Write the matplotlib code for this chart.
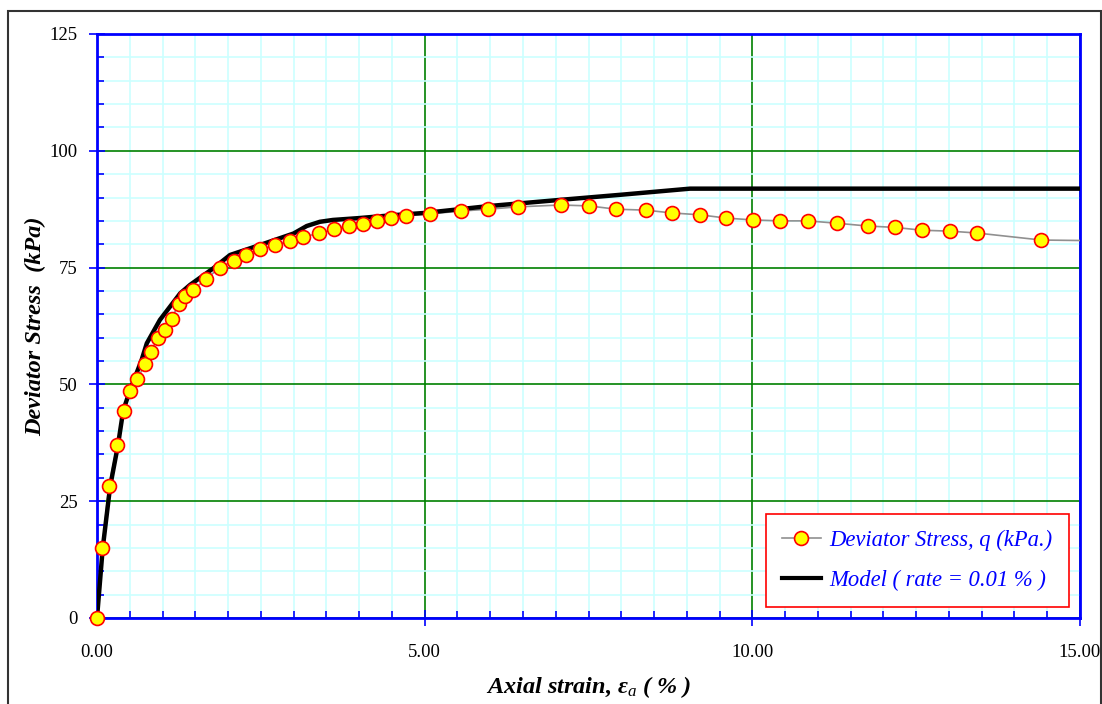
import matplotlib
matplotlib.use("Agg")
import matplotlib.pyplot as plt
from matplotlib.ticker import MultipleLocator, FixedLocator, FuncFormatter
from matplotlib.patches import Rectangle

# Measured data: deviator stress vs axial strain
strain = [0.0, 0.08, 0.18, 0.31, 0.41, 0.50, 0.615, 0.73, 0.82, 0.93, 1.04, 1.14,
          1.25, 1.35, 1.47, 1.67, 1.87, 2.09, 2.28, 2.49, 2.72, 2.95, 3.15, 3.38,
          3.61, 3.84, 4.06, 4.27, 4.48, 4.71, 5.08, 5.55, 5.97, 6.42, 7.08, 7.51,
          7.92, 8.37, 8.77, 9.20, 9.60, 10.01, 10.42, 10.85, 11.29, 11.76, 12.18,
          12.59, 13.02, 13.43, 14.41, 15.0]
stress = [0.0, 15.0, 28.2, 37.0, 44.4, 48.5, 51.1, 54.3, 57.0, 59.9, 61.7, 64.1,
          67.3, 68.9, 70.3, 72.6, 75.0, 76.5, 77.6, 78.9, 79.8, 80.8, 81.6, 82.3,
          83.2, 84.0, 84.4, 84.9, 85.6, 86.1, 86.5, 87.1, 87.5, 88.0, 88.4, 88.2,
          87.5, 87.3, 86.7, 86.3, 85.6, 85.2, 85.0, 85.0, 84.5, 83.9, 83.6,
          83.0, 82.8, 82.4, 80.9, 80.8]
n_markers = 51  # last point is line continuation only

# Model curve (rate = 0.01 %)
model_strain = [0.0, 0.087, 0.2, 0.32, 0.40, 0.5, 0.68, 0.76, 0.96, 1.27, 1.42,
                1.77, 2.03, 2.5, 3.0, 3.20, 3.4, 3.6, 4.0, 4.5, 5.0, 6.0, 7.07,
                8.0, 9.05, 15.0]
model_stress = [0.0, 14.9, 28.1, 37.0, 44.4, 48.6, 55.2, 58.8, 63.8, 69.5, 71.3,
                74.8, 77.7, 79.9, 82.3, 83.9, 84.8, 85.2, 85.6, 86.2, 86.7, 88.2,
                89.5, 90.6, 91.9, 91.9]

x_ticks = [0, 5, 10, 15]
y_ticks = [0, 25, 50, 75, 100, 125]

serif = ["Liberation Serif", "DejaVu Serif"]
plt.rcParams["font.family"] = serif
plt.rcParams["mathtext.fontset"] = "custom"
plt.rcParams["mathtext.rm"] = "Liberation Serif"
plt.rcParams["mathtext.it"] = "Liberation Serif:italic"
plt.rcParams["mathtext.bf"] = "Liberation Serif:bold:italic"

fig = plt.figure(figsize=(11.02, 7.04), dpi=100)
ax = fig.add_axes([97/1102, 1 - 618/704, (1080 - 97)/1102, (618 - 34)/704])

# outer frame
fig.patches.append(Rectangle((8/1102, -0.05), (1101 - 8)/1102, 1 - 11/704 + 0.05,
                             transform=fig.transFigure, fill=False,
                             edgecolor="#333333", linewidth=1.5, zorder=0))

ax.set_xlim(0, 15)
ax.set_ylim(0, 125)
ax.xaxis.set_major_locator(FixedLocator(x_ticks))
ax.yaxis.set_major_locator(FixedLocator(y_ticks))
ax.xaxis.set_minor_locator(MultipleLocator(0.5))
ax.yaxis.set_minor_locator(MultipleLocator(5))
ax.xaxis.set_major_formatter(FuncFormatter(lambda v, p: f"{v:.2f}"))
ax.yaxis.set_major_formatter(FuncFormatter(lambda v, p: f"{v:.0f}"))

ax.grid(which="minor", color="#ccffff", linewidth=1.2, zorder=0)
ax.grid(which="major", color="#008000", linewidth=1.2, zorder=0.5)
ax.set_axisbelow(True)

for side in ["left", "bottom", "right", "top"]:
    ax.spines[side].set_color("#0000ff")
    ax.spines[side].set_linewidth(2.0)

ax.tick_params(which="major", direction="inout", length=12, width=1.2,
               color="#0000ff", labelsize=13.5, pad=8)
ax.tick_params(which="minor", direction="in", length=5, width=1.2, color="#0000ff")
ax.tick_params(axis="x", which="major", pad=13)
ax.tick_params(top=False, right=False, which="both")

ax.plot(strain, stress, color="#909090", linewidth=1.2, zorder=3)
ax.plot(model_strain, model_stress, color="black", linewidth=3.2, zorder=4,
        solid_capstyle="butt")
ax.plot(strain[:n_markers], stress[:n_markers], linestyle="none", marker="o",
        markersize=10, markerfacecolor="#ffff00", markeredgecolor="#ff0000",
        markeredgewidth=1.2, zorder=5, clip_on=False)

# legend handles
h1, = ax.plot([], [], color="#909090", linewidth=1.2, marker="o", markersize=10,
              markerfacecolor="#ffff00", markeredgecolor="#ff0000", markeredgewidth=1.2)
h2, = ax.plot([], [], color="black", linewidth=3.0)
leg = ax.legend([h1, h2], ["Deviator Stress, q (kPa.)", "Model ( rate = 0.01 % )"],
                loc="lower right", bbox_to_anchor=(0.9885, 0.019),
                fancybox=False, framealpha=1, edgecolor="#ff0000",
                prop={"family": serif, "style": "italic", "size": 16.3},
                handlelength=1.7, borderpad=0.7, labelspacing=0.85,
                handletextpad=0.4, borderaxespad=0)
leg.get_frame().set_linewidth(1.2)
for t in leg.get_texts():
    t.set_color("#0000ff")

ax.set_xlabel(r"Axial strain, $\mathbf{\varepsilon}_{\mathit{a}}$ ( % )",
              fontsize=17.5, fontweight="bold", fontstyle="italic", labelpad=9)
ax.set_ylabel("Deviator Stress  (kPa)", fontsize=17.5, fontweight="bold",
              fontstyle="italic", labelpad=2)

fig.savefig("out.png", dpi=100)
